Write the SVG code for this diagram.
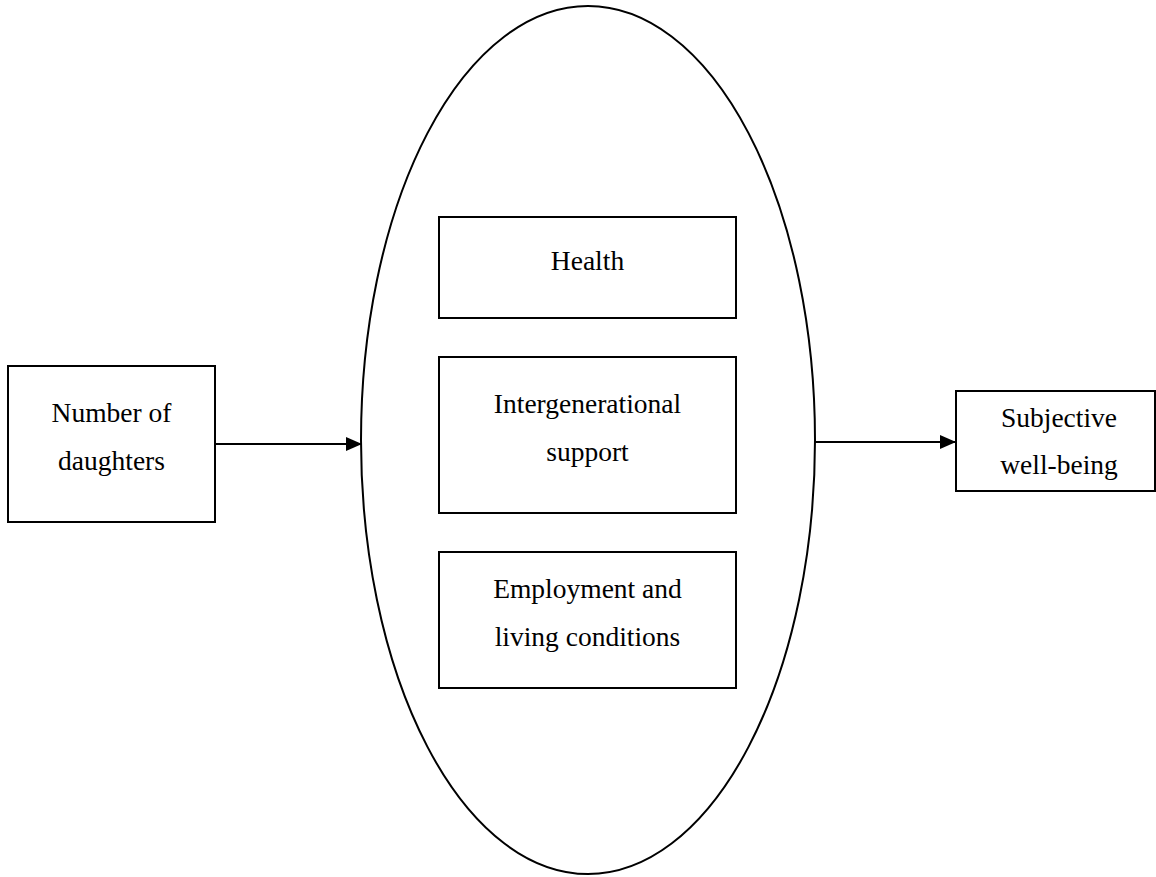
<svg xmlns="http://www.w3.org/2000/svg" width="1156" height="877" viewBox="0 0 1156 877">
  <style>
    .box { fill: #ffffff; stroke: #000000; stroke-width: 2; }
    .oval { fill: none; stroke: #000000; stroke-width: 2; }
    .lbl { font-family: "Liberation Serif", "Times New Roman", serif; font-size: 27.5px; fill: #000000; text-anchor: middle; }
    .edge { stroke: #000000; stroke-width: 2; fill: none; }
  </style>
  <defs>
    <marker id="arrow" viewBox="0 0 16 14" refX="16" refY="7" markerWidth="16" markerHeight="14" markerUnits="userSpaceOnUse" orient="auto">
      <path d="M0,0 L16,7 L0,14 Z" fill="#000000"/>
    </marker>
    <clipPath id="clipSW">
      <rect x="956" y="391" width="200" height="89"/>
    </clipPath>
  </defs>
  <rect width="1156" height="877" fill="#ffffff"/>

  <g id="mediators">
    <ellipse class="oval" cx="588" cy="440" rx="227" ry="434"/>
  </g>

  <g id="connectors">
    <line class="edge" x1="215" y1="444" x2="362" y2="444" marker-end="url(#arrow)"/>
    <line class="edge" x1="815" y1="442" x2="956" y2="442" marker-end="url(#arrow)"/>
  </g>

  <g id="node-daughters">
    <rect class="box" x="8" y="366" width="207" height="156"/>
    <text class="lbl" x="111.5" y="422">Number of</text>
    <text class="lbl" x="111.5" y="470">daughters</text>
  </g>

  <g id="node-health">
    <rect class="box" x="439" y="217" width="297" height="101"/>
    <text class="lbl" x="587.5" y="270">Health</text>
  </g>

  <g id="node-support">
    <rect class="box" x="439" y="357" width="297" height="156"/>
    <text class="lbl" x="587.5" y="413">Intergenerational</text>
    <text class="lbl" x="587.5" y="461">support</text>
  </g>

  <g id="node-employment">
    <rect class="box" x="439" y="552" width="297" height="136"/>
    <text class="lbl" x="587.5" y="598">Employment and</text>
    <text class="lbl" x="587.5" y="646">living conditions</text>
  </g>

  <g id="node-wellbeing">
    <rect class="box" x="956" y="391" width="199" height="100"/>
    <g clip-path="url(#clipSW)">
      <text class="lbl" x="1059" y="427">Subjective</text>
      <text class="lbl" x="1059" y="474">well-being</text>
    </g>
  </g>
</svg>
